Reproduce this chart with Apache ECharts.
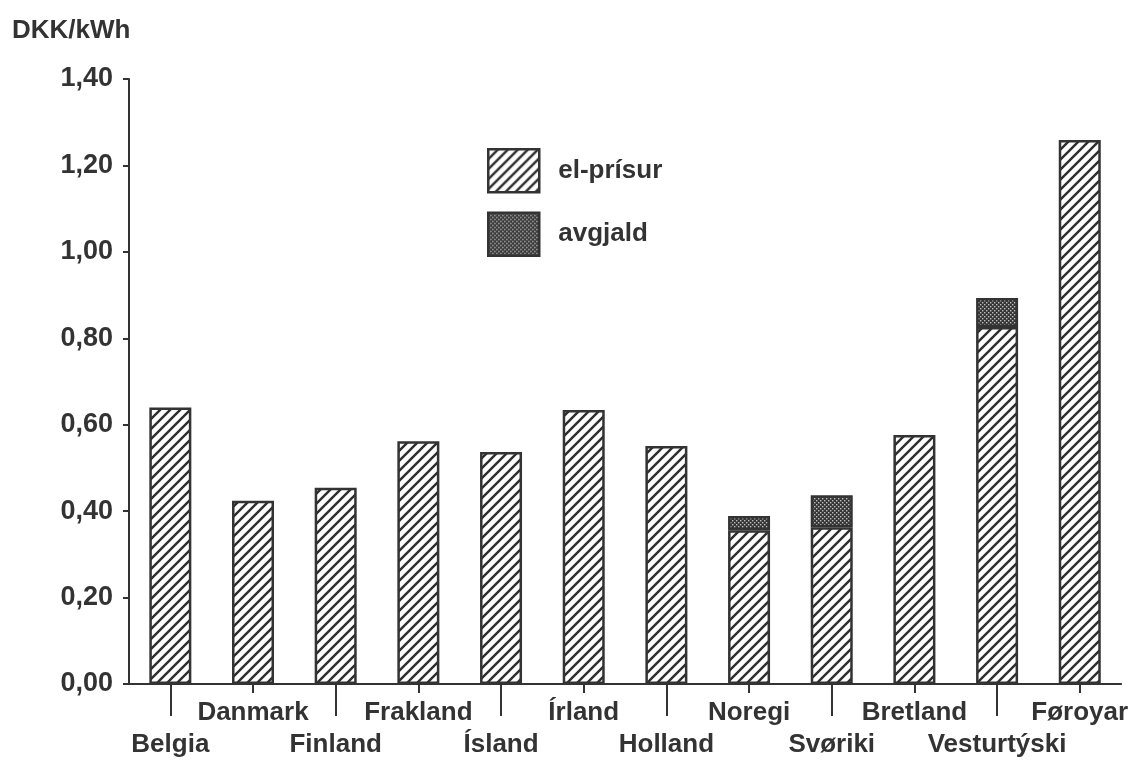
<!DOCTYPE html>
<html>
<head>
<meta charset="utf-8">
<script src="https://cdn.jsdelivr.net/npm/echarts@6/dist/echarts.min.js"></script>
<style>
html,body{margin:0;padding:0;background:#fff;}
#c{width:1131px;height:762px;}
</style>
</head>
<body>
<div id="c"></div>
<script>
const categories = ['Belgia','Danmark','Finland','Frakland','Ísland','Írland','Holland','Noregi','Svøriki','Bretland','Vesturtýski','Føroyar'];
const elPrisur = [0.64, 0.424, 0.454, 0.562, 0.537, 0.634, 0.551, 0.356, 0.363, 0.576, 0.826, 1.259];
const avgjald = [null, null, null, null, null, null, null, 0.033, 0.074, null, 0.067, null];
const seriesNames = ['el-prísur', 'avgjald'];
const yUnit = 'DKK/kWh';

const ink = '#333333';

function hatch() {
  const s = 10;
  const c = document.createElement('canvas');
  c.width = s; c.height = s;
  const g = c.getContext('2d');
  g.fillStyle = '#ffffff';
  g.fillRect(0, 0, s, s);
  g.strokeStyle = '#2e2e2e';
  g.lineWidth = 2.4;
  g.beginPath();
  g.moveTo(-2, s + 2); g.lineTo(s + 2, -2);
  g.moveTo(-2, 2); g.lineTo(2, -2);
  g.moveTo(s - 2, s + 2); g.lineTo(s + 2, s - 2);
  g.stroke();
  return c;
}
function stipple() {
  const s = 4;
  const c = document.createElement('canvas');
  c.width = s; c.height = s;
  const g = c.getContext('2d');
  g.fillStyle = '#363636';
  g.fillRect(0, 0, s, s);
  g.fillStyle = '#bdbdbd';
  g.fillRect(0, 0, 1.4, 1.4);
  g.fillRect(2, 2, 1.4, 1.4);
  return c;
}

const font = 'Liberation Sans';
const chart = echarts.init(document.getElementById('c'));
chart.setOption({
  backgroundColor: '#ffffff',
  animation: false,
  grid: { left: 129, right: 6, top: 79, bottom: 78 },
  graphic: [{
    type: 'text', left: 12, top: 18,
    style: { text: yUnit, font: 'bold 26px "Liberation Sans"', fill: ink }
  }],
  legend: {
    orient: 'vertical', left: 487, top: 148, padding: 0,
    itemWidth: 51, itemHeight: 43, itemGap: 18,
    icon: 'rect',
    data: seriesNames,
    itemStyle: { borderColor: ink, borderWidth: 2.5 },
    textStyle: { fontFamily: font, fontWeight: 'bold', fontSize: 26, color: ink, padding: [0, 0, 0, 14] }
  },
  xAxis: [{
    type: 'category', data: categories, position: 'bottom',
    axisLine: { show: true, lineStyle: { color: ink, width: 2 } },
    axisTick: { show: true, alignWithLabel: true, length: 32, interval: (i) => i % 2 === 0, lineStyle: { color: ink, width: 2 } },
    axisLabel: { interval: (i) => i % 2 === 0, margin: 48, fontFamily: font, fontWeight: 'bold', fontSize: 26, color: ink }
  }, {
    type: 'category', data: categories, position: 'bottom',
    axisLine: { show: false },
    axisTick: { show: true, alignWithLabel: true, length: 9, interval: (i) => i % 2 === 1, lineStyle: { color: ink, width: 2 } },
    axisLabel: { interval: (i) => i % 2 === 1, margin: 16, fontFamily: font, fontWeight: 'bold', fontSize: 26, color: ink }
  }],
  yAxis: {
    type: 'value', min: 0, max: 1.4, interval: 0.2,
    axisLine: { show: true, lineStyle: { color: ink, width: 2 } },
    axisTick: { show: true, length: 6, lineStyle: { color: ink, width: 2 } },
    splitLine: { show: false },
    axisLabel: { margin: 16, fontFamily: font, fontWeight: 'bold', fontSize: 27, color: ink,
      formatter: (v) => v.toFixed(2).replace('.', ',') }
  },
  series: [{
    name: seriesNames[0], type: 'bar', stack: 'tot', data: elPrisur, barWidth: 42, xAxisIndex: 0,
    itemStyle: { color: { image: hatch(), repeat: 'repeat' }, borderColor: ink, borderWidth: 2.5 }
  }, {
    name: seriesNames[1], type: 'bar', stack: 'tot', data: avgjald, barWidth: 42, xAxisIndex: 0,
    itemStyle: { color: { image: stipple(), repeat: 'repeat' }, borderColor: ink, borderWidth: 2.5 }
  }]
});
</script>
</body>
</html>
